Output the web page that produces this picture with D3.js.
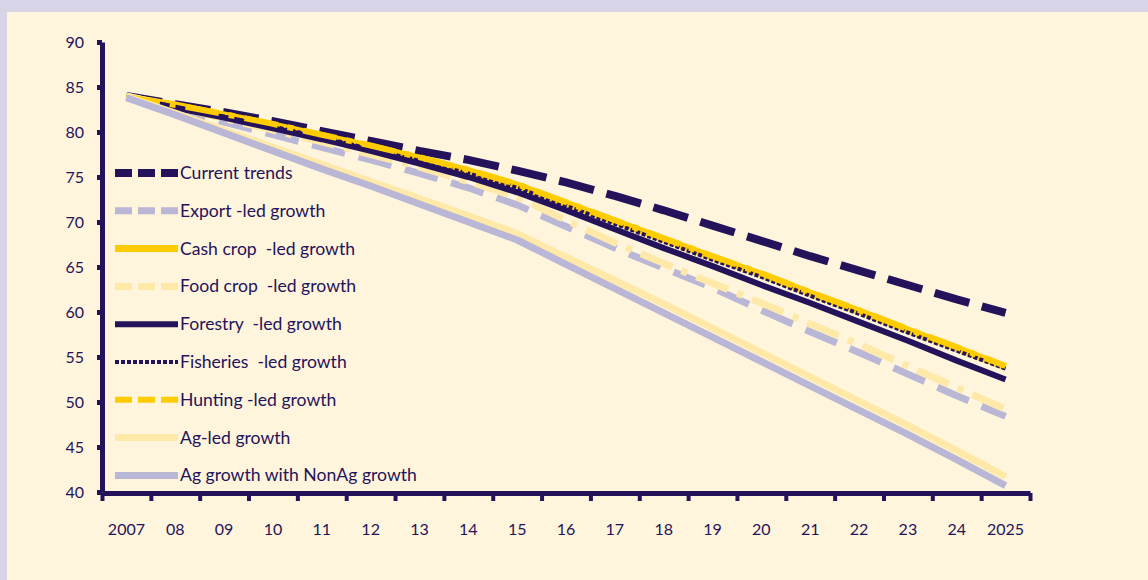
<!DOCTYPE html>
<html>
<head>
<meta charset="utf-8">
<script src="https://cdn.jsdelivr.net/npm/d3@7"></script>
<style>
  html, body { margin: 0; padding: 0; background: #d6d4e6; }
  svg { display: block; }
  .lbl { font-family: Lato, "Open Sans", sans-serif; font-size: 16px; fill: #24135a; white-space: pre; }
  .leg { font-size: 17.6px; }
  .axis path, .axis line { stroke: #24135a; }
</style>
</head>
<body>
<svg id="chart" width="1148" height="580"></svg>
<script>
  const years = d3.range(2007, 2026);
  const yearLabels = ['2007', '08', '09', '10', '11', '12', '13', '14', '15', '16',
    '17', '18', '19', '20', '21', '22', '23', '24', '2025'];
  const yTicks = [40, 45, 50, 55, 60, 65, 70, 75, 80, 85, 90];

  const seriesNames = ['Current trends', 'Export -led growth', 'Cash crop  -led growth',
    'Food crop  -led growth', 'Forestry  -led growth', 'Fisheries  -led growth',
    'Hunting -led growth', 'Ag-led growth', 'Ag growth with NonAg growth'];

  const currentTrends = [84.0, 83.1, 82.2, 81.2, 80.1, 79.0, 77.9, 76.9, 75.7, 74.4,
    72.9, 71.3, 69.6, 67.9, 66.2, 64.6, 63.0, 61.4, 59.9];
  const exportLed = [84.0, 82.6, 81.1, 79.7, 78.3, 76.9, 75.4, 73.8, 71.9, 69.5,
    67.1, 64.9, 62.7, 60.2, 57.8, 55.5, 53.1, 50.7, 48.4];
  const cashCrop = [83.9, 83.0, 81.9, 80.8, 79.6, 78.4, 77.1, 75.7, 74.1, 72.1,
    70.1, 68.1, 66.1, 64.2, 62.1, 60.1, 58.0, 56.0, 53.9];
  const foodCrop = [84.0, 82.8, 81.5, 80.2, 78.9, 77.5, 76.1, 74.5, 72.8, 70.2,
    67.7, 65.4, 63.2, 61.0, 58.7, 56.4, 54.0, 51.6, 49.2];
  const forestry = [83.8, 82.7, 81.6, 80.4, 79.2, 77.9, 76.5, 75.0, 73.3, 71.3,
    69.2, 67.1, 65.1, 63.0, 61.0, 58.9, 56.8, 54.6, 52.5];
  const fisheries = [83.8, 82.8, 81.7, 80.6, 79.4, 78.1, 76.8, 75.4, 73.8, 71.8,
    69.8, 67.8, 65.8, 63.9, 61.8, 59.8, 57.7, 55.7, 53.7];
  const hunting = [83.9, 83.0, 82.0, 80.9, 79.7, 78.5, 77.2, 75.8, 74.2, 72.2,
    70.2, 68.2, 66.2, 64.3, 62.2, 60.2, 58.1, 56.1, 54.0];
  const agLed = [83.9, 82.1, 80.2, 78.3, 76.4, 74.5, 72.6, 70.7, 68.7, 66.1,
    63.5, 60.9, 58.2, 55.5, 52.8, 50.1, 47.4, 44.6, 41.7];
  const agNonAg = [83.8, 81.9, 79.9, 77.9, 75.9, 74.0, 72.0, 70.0, 68.0, 65.3,
    62.6, 59.9, 57.2, 54.5, 51.8, 49.1, 46.4, 43.6, 40.7];

  const seriesValues = [currentTrends, exportLed, cashCrop, foodCrop, forestry,
    fisheries, hunting, agLed, agNonAg];

  // look of each series, same order as the names
  const dark = '#24135a';
  const styles = [
    { color: dark, width: 8, dash: '36,13' },
    { color: '#b9b6d6', width: 7, dash: '34,14' },
    { color: '#ffcc00', width: 7, dash: null },
    { color: '#ffe9a8', width: 7, dash: '34,10,6,10' },
    { color: dark, width: 6, dash: null },
    { color: dark, width: 4, dash: '4,2' },
    { color: '#ffcc00', width: 6, dash: '34,10,6,10' },
    { color: '#ffe9a8', width: 7, dash: null },
    { color: '#b9b6d6', width: 7, dash: null }
  ];

  const svg = d3.select('#chart');
  svg.append('rect').attr('x', 7).attr('y', 12).attr('width', 1141).attr('height', 568)
    .attr('fill', '#fff5dc');

  const x = d3.scaleBand().domain(years).range([102, 1030]).padding(0);
  const y = d3.scaleLinear().domain([40, 90]).range([492, 42]);
  const cx = d => x(d) + x.bandwidth() / 2;

  // y axis
  svg.append('g').attr('class', 'axis').attr('transform', 'translate(102,0)')
    .call(d3.axisLeft(y).tickValues(yTicks).tickSize(5).tickSizeOuter(0))
    .call(g => g.select('.domain').attr('stroke-width', 5))
    .call(g => g.selectAll('.tick line').attr('stroke-width', 5))
    .call(g => g.selectAll('.tick text').attr('class', 'lbl').attr('x', -18));

  // x axis: ticks on the band edges, labels under the band centres
  const edge = d3.scaleLinear().domain([0, years.length]).range(x.range());
  svg.append('g').attr('class', 'axis').attr('transform', 'translate(0,493)')
    .call(d3.axisBottom(edge).tickValues(d3.range(0, years.length + 1))
      .tickSize(8).tickSizeOuter(0).tickFormat(''))
    .call(g => g.select('.domain').attr('stroke-width', 5))
    .call(g => g.selectAll('.tick line').attr('stroke-width', 4));
  svg.append('g').attr('transform', 'translate(0,493)')
    .call(d3.axisBottom(x).tickSize(0).tickFormat((d, i) => yearLabels[i]))
    .call(g => g.select('.domain').remove())
    .call(g => g.selectAll('.tick text').attr('class', 'lbl').attr('dy', 0).attr('y', 42));

  const line = d3.line().x((d, i) => cx(years[i])).y(d => y(d));

  svg.append('g').selectAll('path').data(seriesValues).join('path')
    .attr('d', line)
    .attr('fill', 'none')
    .attr('stroke', (d, i) => styles[i].color)
    .attr('stroke-width', (d, i) => styles[i].width)
    .attr('stroke-dasharray', (d, i) => styles[i].dash)
    .attr('stroke-linejoin', 'bevel');

  // legend
  const legend = svg.append('g').attr('transform', 'translate(115,173)');
  const item = legend.selectAll('g').data(seriesNames).join('g')
    .attr('transform', (d, i) => `translate(0,${i * 37.8})`);
  item.append('line')
    .attr('x1', 0).attr('x2', 63).attr('y1', 0).attr('y2', 0)
    .attr('stroke', (d, i) => styles[i].color)
    .attr('stroke-width', (d, i) => styles[i].width)
    .attr('stroke-dasharray', (d, i) => styles[i].dash ? (i === 5 ? '4,2' : '17,6') : null);
  item.append('text').attr('class', 'lbl leg').attr('x', 65).attr('y', 6).text(d => d);
</script>
</body>
</html>
